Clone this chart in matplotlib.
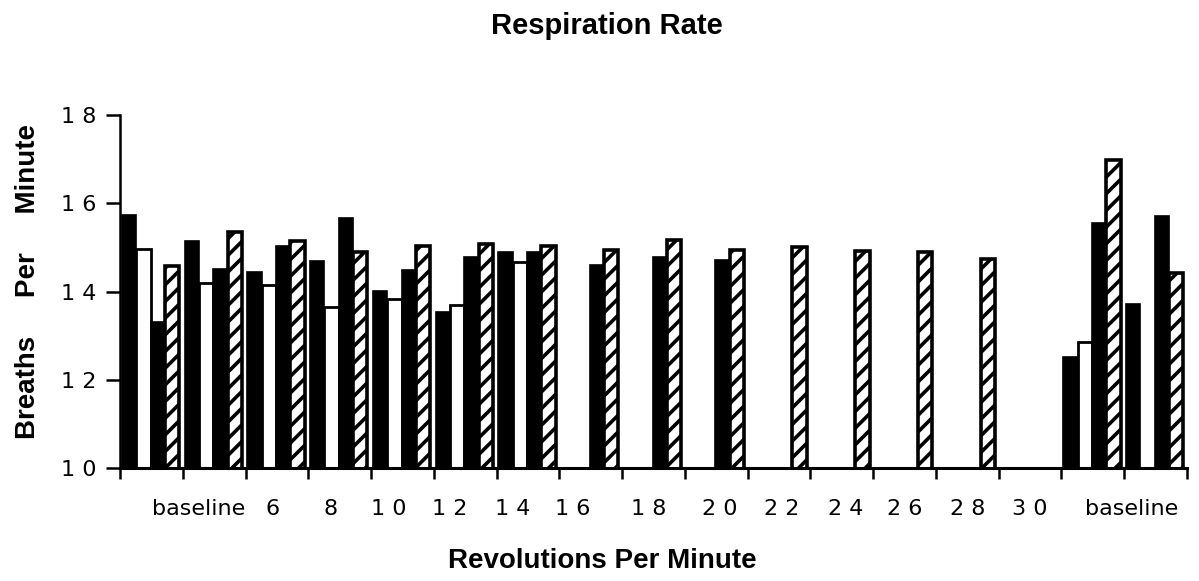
import matplotlib
matplotlib.use('Agg')
import matplotlib.pyplot as plt
import numpy as np

nan = np.nan

# four bars per interval: black, white, black, hatched
black1 = [15.74, 15.15, 14.44, 14.68, 14.02, 13.53, 14.90, nan, nan, nan, nan, nan, nan, nan, nan, 12.51, 13.71]
white = [14.97, 14.20, 14.14, 13.65, 13.83, 13.70, 14.66, nan, nan, nan, nan, nan, nan, nan, nan, 12.85, nan]
black2 = [13.31, 14.51, 15.04, 15.67, 14.49, 14.79, 14.90, 14.60, 14.78, 14.72, nan, nan, nan, nan, nan, 15.56, 15.72]
hatched = [14.57, 15.34, 15.14, 14.89, 15.02, 15.08, 15.02, 14.93, 15.17, 14.93, 15.00, 14.92, 14.90, 14.73, nan, 16.98, 14.42]

x_labels = ['baseline', '6', '8', '10', '12', '14', '16', '18', '20', '22', '24', '26', '28', '30', 'baseline']
y_ticks = [10, 12, 14, 16, 18]

# layout only: where the category labels sit along the axis
label_pos = [1.25, 2.43, 3.36, 4.28, 5.26, 6.25, 7.22, 8.42, 9.55, 10.54, 11.56, 12.5, 13.5, 14.5, 16.12]

plt.rcParams['hatch.linewidth'] = 2.6

fig = plt.figure(figsize=(11.99, 5.81), dpi=100)
ax = fig.add_axes([120 / 1199, 113 / 581, 1067 / 1199, 353 / 581])

n = len(hatched)
x = np.arange(n)
w = 0.228
off = 0.03
ax.bar(x + off, black1, width=w, align='edge', color='black', edgecolor='black', linewidth=1.2)
ax.bar(x + off + w, white, width=w, align='edge', color='white', edgecolor='black', linewidth=2.0)
ax.bar(x + off + 2 * w, black2, width=w, align='edge', color='black', edgecolor='black', linewidth=1.2)
ax.bar(x + off + 3 * w, hatched, width=w, align='edge', color='white', edgecolor='black',
       linewidth=2.6, hatch='//')

ax.set_xlim(0, n)
ax.set_ylim(10, 18)

for s in ['top', 'right']:
    ax.spines[s].set_visible(False)
ax.spines['left'].set_linewidth(1.8)
ax.spines['bottom'].set_linewidth(2.2)

ax.set_yticks(y_ticks)
ax.set_yticklabels([' '.join(str(v)) for v in y_ticks], fontsize=16, family='DejaVu Sans')
ax.tick_params(axis='y', direction='out', length=10, width=1.8, pad=7)

ax.set_xticks(np.arange(n + 1))
ax.set_xticklabels([])
ax.tick_params(axis='x', which='major', direction='out', length=8, width=1.8)
ax.set_xticks(label_pos, minor=True)
ax.set_xticklabels([' '.join(t) if t.isdigit() else t for t in x_labels], minor=True,
                   fontsize=16, family='DejaVu Sans')
ax.tick_params(axis='x', which='minor', length=0, pad=22)

fig.text(607 / 1199, 1 - 26 / 581, 'Respiration Rate', ha='center', va='center',
         fontsize=21, fontweight='bold', family='Liberation Sans')
fig.text(602 / 1199, 1 - 561 / 581, 'Revolutions Per Minute', ha='center', va='center',
         fontsize=20, fontweight='bold', family='Liberation Sans')
fig.text(28 / 1199, 1 - 281 / 581, 'Breaths     Per     Minute', ha='center', va='center',
         rotation=90, fontsize=20, fontweight='bold', family='Liberation Sans')

fig.savefig('out.png', dpi=100)
